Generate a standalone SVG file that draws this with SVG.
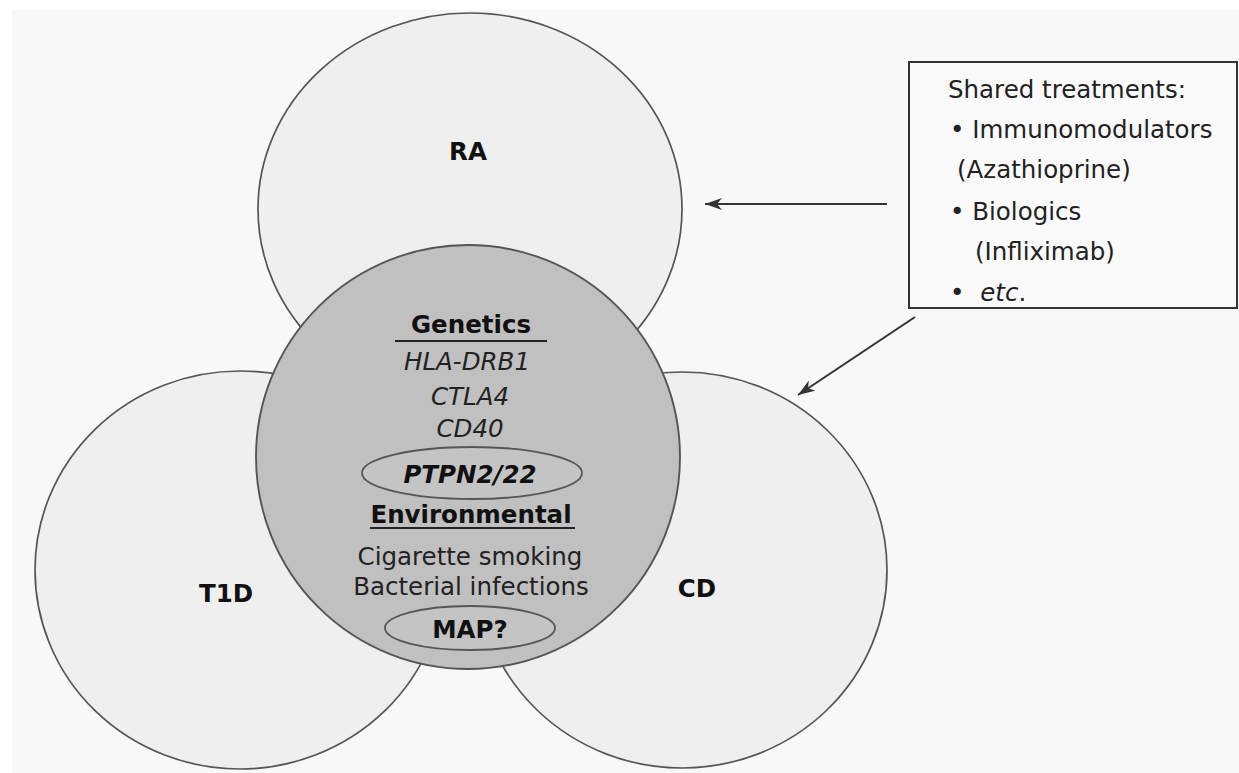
<svg xmlns="http://www.w3.org/2000/svg" width="1239" height="773" viewBox="0 0 1239 773">
  <defs>
    <marker id="arr" markerUnits="userSpaceOnUse" markerWidth="20" markerHeight="14" refX="17" refY="6" orient="auto">
      <path d="M0,0 L17,6 L0,12 L5,6 z" fill="#333"/>
    </marker>
    <style>
      .outer { fill: #efefef; stroke: #555; stroke-width: 1.7; }
      .core { fill: #c0c0c0; stroke: #555; stroke-width: 1.9; }
      .pill { fill: #c4c4c4; stroke: #555; stroke-width: 1.8; }
      .lbl { font-family: "DejaVu Sans", Verdana, sans-serif; font-weight: bold; font-size: 24.5px; fill: #111; text-anchor: middle; }
      .t { font-family: "DejaVu Sans", Verdana, sans-serif; font-size: 24.5px; fill: #222; }
      .c { text-anchor: middle; }
      .b { font-weight: bold; fill: #111; }
      .i { font-style: italic; }
      .conn { stroke: #333; stroke-width: 2; fill: none; marker-end: url(#arr); }
    </style>
  </defs>
  <rect x="0" y="0" width="1239" height="773" fill="#ffffff"/>
  <rect x="12" y="10" width="1227" height="763" fill="#f8f8f8"/>

  <g id="RA">
    <ellipse class="outer" cx="470" cy="209" rx="212" ry="196"/>
    <text class="lbl" x="468" y="160">RA</text>
  </g>
  <g id="T1D">
    <ellipse class="outer" cx="240" cy="570" rx="205" ry="199"/>
    <text class="lbl" x="226" y="602">T1D</text>
  </g>
  <g id="CD">
    <ellipse class="outer" cx="682" cy="570" rx="205" ry="198"/>
    <text class="lbl" x="697" y="597">CD</text>
  </g>

  <g id="shared-factors">
    <circle class="core" cx="468" cy="457" r="212"/>
    <text class="t c b" x="471" y="333">Genetics</text>
    <line x1="395" y1="341" x2="547" y2="341" stroke="#222" stroke-width="2"/>
    <text class="t c i" x="467" y="370">HLA-DRB1</text>
    <text class="t c i" x="470" y="405">CTLA4</text>
    <text class="t c i" x="470" y="437">CD40</text>
    <ellipse class="pill" cx="472" cy="473" rx="110" ry="26"/>
    <text class="t c b i" x="470" y="483">PTPN2/22</text>
    <text class="t c b" x="471" y="523">Environmental</text>
    <line x1="370" y1="528" x2="575" y2="528" stroke="#222" stroke-width="2"/>
    <text class="t c" x="470" y="565">Cigarette smoking</text>
    <text class="t c" x="471" y="595">Bacterial infections</text>
    <ellipse class="pill" cx="470" cy="628" rx="85" ry="22"/>
    <text class="t c b" x="470" y="638">MAP?</text>
  </g>

  <g id="treatments">
    <rect x="909" y="62" width="328" height="246" fill="#fafafa" stroke="#333" stroke-width="2"/>
    <text class="t" x="948" y="98">Shared treatments:</text>
    <text class="t" x="950" y="138">• Immunomodulators</text>
    <text class="t" x="957" y="178">(Azathioprine)</text>
    <text class="t" x="950" y="220">• Biologics</text>
    <text class="t" x="975" y="260">(Infliximab)</text>
    <text class="t" x="950" y="301">• <tspan class="i" dx="8">etc</tspan>.</text>
  </g>

  <g id="connectors">
    <line class="conn" x1="887" y1="204" x2="705" y2="204"/>
    <line class="conn" x1="915" y1="317" x2="798" y2="395"/>
  </g>
</svg>
